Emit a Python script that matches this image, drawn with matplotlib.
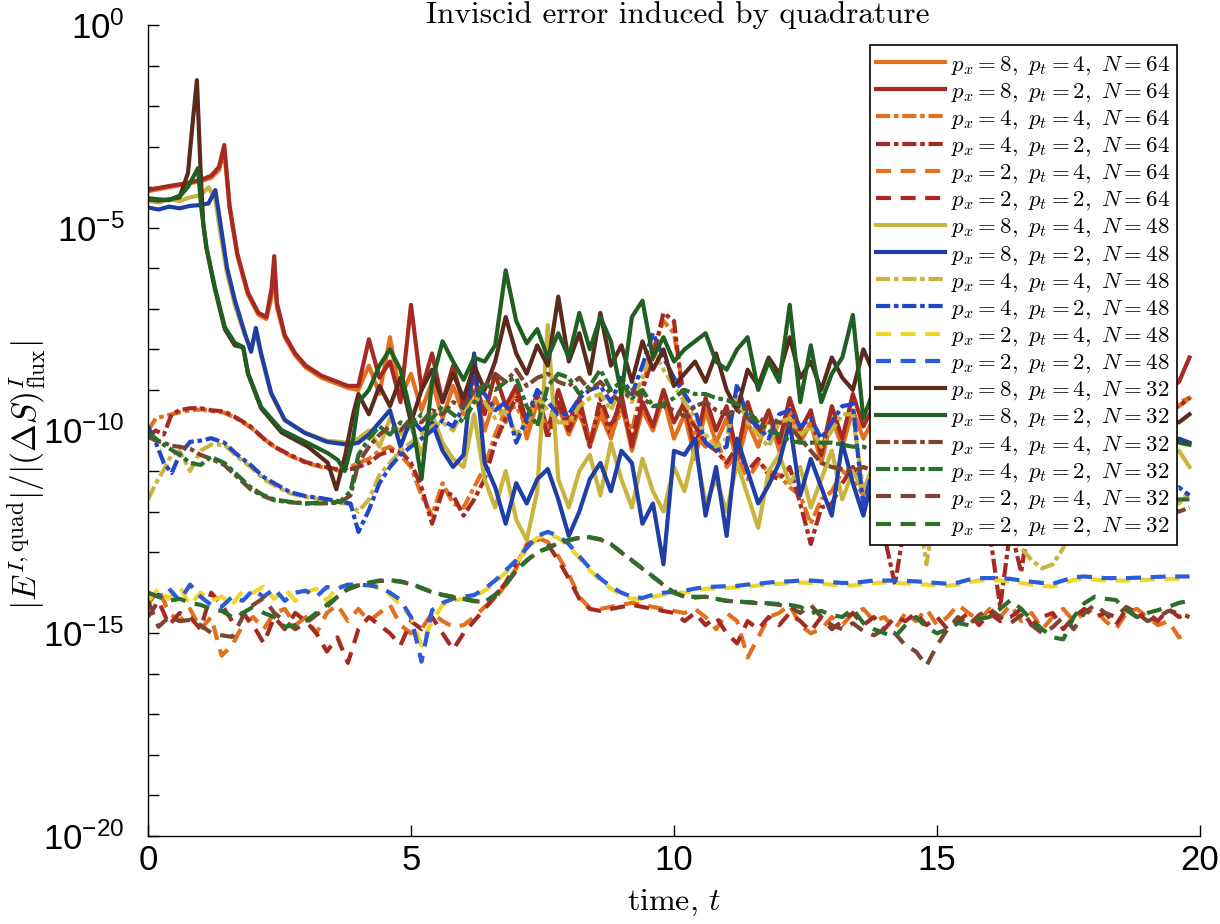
import numpy as np
import matplotlib.pyplot as plt
from matplotlib.ticker import FixedLocator, NullFormatter, LogFormatterMathtext

plt.rcParams['font.family'] = ['Liberation Sans', 'DejaVu Sans']
plt.rcParams['mathtext.fontset'] = 'cm'

# all values are log10 of the error
# --- time grids ---
T_LATE = np.round(4.0 + 0.2 * np.arange(80), 1)   # 4.0 .. 19.8
T_LOW = np.round(0.2 * np.arange(100), 1)         # 0.0 .. 19.8

t_e64 = [0, 0.2, 0.4, 0.6, 0.8, 1.0, 1.2, 1.35, 1.45, 1.55, 1.7, 1.9, 2.1, 2.25,
         2.35, 2.4, 2.45, 2.6, 2.8, 3.0, 3.3, 3.6, 3.8]
t_e48 = [0, 0.2, 0.4, 0.6, 0.8, 1.0, 1.15, 1.28, 1.36, 1.5, 1.65, 1.84, 1.96, 2.05,
         2.15, 2.34, 2.6, 2.98, 3.4, 3.8]
t_e32g = [0, 0.2, 0.4, 0.63, 0.76, 0.88, 0.95, 1.01, 1.11, 1.27, 1.46, 1.65, 1.81,
          1.9, 2.15, 2.54, 3.04, 3.42, 3.61, 3.74, 3.9]
t_e32b = [0, 0.2, 0.4, 0.6, 0.76, 0.85, 0.93, 1.0, 1.05, 1.11, 1.27, 1.46, 1.65,
          1.81, 1.9, 2.15, 2.54, 3.04, 3.42, 3.58, 3.75, 3.9]
t_edd = [0, 0.15, 0.3, 0.45, 0.6, 0.8, 1.0, 1.2, 1.45, 1.7, 1.95, 2.2, 2.4, 2.7,
         3.0, 3.3, 3.65, 3.85]

# --- p_x = 8 (solid) ---
s64_4_early = [-4.1, -4.05, -4.0, -3.95, -3.9, -3.85, -3.77, -3.58, -3.1, -4.5, -5.7,
               -6.65, -7.15, -7.25, -6.7, -6.0, -6.95, -7.7, -8.15, -8.45, -8.7, -8.85, -8.95]
s64_4_late = [-9.0, -8.4, -9.1, -7.7, -9.2, -8.6, -9.5, -8.8, -9.7, -8.9,
              -9.6, -9.0, -10.0, -9.2, -9.8, -8.9, -10.2, -9.3, -10.0, -9.4,
              -10.1, -9.5, -10.4, -9.6, -10.2, -9.3, -10.5, -9.5, -10.0, -9.2,
              -10.2, -9.6, -10.7, -9.5, -10.3, -9.7, -10.8, -9.8, -10.4, -9.6,
              -10.5, -9.5, -10.3, -9.8, -10.8, -9.7, -10.4, -9.5, -10.2, -9.7,
              -10.3, -9.6, -10.5, -9.8, -10.1, -9.5, -10.4, -9.7, -10.0, -9.4,
              -10.2, -9.6, -10.0, -9.7, -10.3, -9.5, -9.9, -9.6, -10.1, -9.5,
              -9.9, -9.4, -10.1, -9.6, -9.8, -9.7, -9.6, -9.5, -9.4, -9.2]
s64_2_early = [-4.07, -4.02, -3.97, -3.93, -3.88, -3.82, -3.72, -3.5, -2.96, -4.45, -5.65,
               -6.6, -7.1, -7.2, -6.5, -5.7, -6.85, -7.65, -8.1, -8.4, -8.65, -8.8, -8.9]
s64_2_late = [-8.9, -7.75, -8.7, -8.3, -9.3, -6.9, -9.0, -8.1, -9.3, -8.4,
              -9.4, -8.7, -9.6, -8.6, -9.4, -8.9, -9.8, -9.1, -10.0, -9.0,
              -9.8, -9.2, -10.3, -9.4, -10.1, -9.1, -10.4, -9.3, -9.9, -9.0,
              -9.8, -9.3, -10.5, -9.2, -10.0, -9.4, -10.6, -9.3, -10.1, -9.5,
              -10.3, -9.2, -10.0, -9.5, -10.6, -9.4, -10.2, -9.1, -9.9, -9.4,
              -10.0, -9.3, -10.2, -9.5, -9.8, -9.2, -10.1, -9.4, -9.7, -9.1,
              -9.9, -9.3, -9.7, -9.4, -10.0, -9.2, -9.6, -9.3, -9.8, -9.2,
              -9.6, -9.1, -9.8, -9.3, -9.5, -9.0, -9.3, -9.0, -8.8, -8.2]
s48_4_early = [-4.33, -4.38, -4.3, -4.34, -4.25, -4.2, -4.0, -4.3, -5.0, -6.1, -6.9,
               -7.65, -8.0, -7.55, -8.15, -9.1, -9.75, -10.05, -10.25, -10.3]
s48_4_late = [-10.2, -10.0, -10.4, -9.7, -10.1, -9.9, -10.6, -9.6, -10.3, -10.7,
              -10.9, -9.6, -11.2, -11.9, -11.0, -12.2, -12.7, -11.5, -7.4, -11.2,
              -11.9, -11.0, -10.6, -11.6, -10.3, -11.2, -11.9, -10.7, -11.5, -12.0,
              -10.9, -11.5, -10.4, -11.8, -11.2, -12.0, -10.8, -11.6, -12.4, -11.0,
              -10.6, -11.3, -10.9, -11.9, -11.2, -10.5, -11.7, -11.0, -11.5, -10.8,
              -11.2, -10.7, -11.8, -10.9, -12.1, -11.0, -11.5, -10.6, -11.3, -10.9,
              -11.4, -10.8, -11.9, -10.6, -11.2, -10.9, -11.6, -10.7, -11.1, -10.8,
              -11.3, -10.6, -11.0, -10.9, -11.4, -10.7, -11.0, -10.6, -10.5, -10.9]
s48_2_early = [-4.5, -4.55, -4.48, -4.52, -4.46, -4.44, -4.4, -4.07, -4.75, -5.97, -6.78,
               -7.6, -8.06, -7.47, -8.1, -9.07, -9.74, -10.06, -10.28, -10.35]
s48_2_late = [-10.3, -10.1, -9.8, -9.5, -10.4, -9.7, -10.0, -9.8, -10.5, -10.9,
              -10.6, -8.1, -10.8, -11.4, -12.3, -11.3, -11.8, -11.2, -10.95, -11.7,
              -12.6, -12.0, -11.2, -10.8, -11.5, -10.5, -10.8, -12.3, -11.8, -13.3,
              -10.5, -10.6, -10.2, -12.1, -10.9, -12.6, -10.2, -11.0, -11.8, -11.35,
              -10.8, -9.8, -11.6, -10.7, -11.4, -12.1, -10.3, -11.3, -12.1, -11.0,
              -11.5, -10.6, -12.0, -10.9, -11.4, -10.5, -11.8, -10.8, -11.2, -10.4,
              -11.6, -10.7, -11.1, -10.3, -11.7, -10.8, -11.3, -10.5, -11.0, -10.6,
              -11.4, -10.5, -10.9, -10.3, -11.0, -10.4, -10.7, -10.3, -10.2, -10.3]
s32_4_early = [-4.3, -4.33, -4.3, -4.25, -3.65, -2.4, -1.36, -3.6, -4.9, -5.5, -6.5,
               -7.5, -7.9, -7.95, -8.6, -9.45, -10.05, -10.4, -10.8, -11.45, -10.6, -9.6]
s32_4_late = [-9.1, -9.6, -8.9, -9.4, -8.7, -9.8, -9.0, -8.5, -9.3, -8.6,
              -9.2, -8.4, -9.0, -8.3, -7.2, -8.1, -8.6, -7.9, -8.4, -6.7,
              -8.3, -7.6, -8.6, -7.1, -8.4, -7.9, -8.8, -7.8, -8.5, -8.0,
              -8.9, -8.6, -8.3, -8.8, -8.1, -9.0, -9.5, -8.5, -8.9, -8.2,
              -8.6, -7.7, -8.7, -8.3, -9.0, -8.2, -8.7, -9.0, -8.0, -8.6,
              -9.1, -8.5, -8.9, -8.3, -9.2, -8.7, -8.4, -9.0, -8.6, -9.3,
              -8.8, -9.1, -8.5, -9.4, -8.9, -9.2, -8.7, -9.5, -9.0, -9.3,
              -9.6, -9.1, -9.8, -9.4, -9.6, -9.9, -9.5, -9.7, -9.8, -9.6]
s32_2_early = [-4.27, -4.3, -4.32, -4.19, -3.99, -3.7, -3.53, -4.49, -5.47, -6.46, -7.45,
               -7.84, -7.94, -8.58, -9.42, -9.99, -10.31, -10.56, -10.73, -11.0, -10.2]
s32_2_late = [-9.3, -9.0, -8.4, -8.0, -8.5, -9.6, -11.2, -8.8, -7.8, -8.3,
              -8.75, -8.2, -8.3, -7.9, -6.05, -7.3, -7.85, -7.5, -8.2, -7.6,
              -8.2, -7.1, -8.0, -7.2, -7.8, -9.1, -7.2, -6.8, -8.2, -7.7,
              -8.3, -8.0, -7.8, -7.6, -8.3, -8.5, -8.0, -7.7, -9.0, -8.3,
              -8.8, -6.9, -9.3, -7.9, -9.3, -8.6, -8.2, -7.15, -9.7, -9.0,
              -8.4, -9.2, -7.8, -8.6, -9.0, -8.1, -8.8, -7.9, -9.1, -8.5,
              -8.7, -9.3, -8.2, -8.9, -9.4, -8.6, -9.1, -8.8, -9.5, -9.0,
              -9.4, -8.9, -9.7, -9.3, -9.9, -9.6, -10.1, -10.0, -10.3, -10.35]

# --- p_x = 4 (dash-dot) ---
d64_4_early = [-10.0, -9.7, -9.65, -9.6, -9.55, -9.5, -9.48, -9.52, -9.56, -9.72, -9.92,
               -10.2, -10.4, -10.62, -10.8, -10.9, -11.0, -10.9]
d64_4_late = [-10.8, -10.7, -10.5, -10.4, -10.6, -10.9, -11.6, -12.1, -11.3, -11.8,
              -11.9, -11.4, -10.9, -10.1, -9.5, -9.4, -9.9, -9.3, -10.0, -9.5,
              -9.8, -9.6, -10.2, -9.4, -10.1, -9.5, -10.0, -8.9, -8.0, -7.3,
              -7.6, -9.2, -10.1, -10.4, -10.2, -10.9, -10.6, -11.2, -10.8, -11.0,
              -11.1, -11.4, -11.6, -12.3, -11.7, -11.5, -11.0, -11.2, -11.6, -11.3,
              -11.9, -12.4, -11.8, -11.2, -10.9, -11.1, -10.8, -11.0, -11.2, -11.4,
              -11.6, -12.0, -11.7, -12.2, -11.4, -11.0, -11.2, -10.8, -10.9, -10.6,
              -10.7, -10.4, -10.6, -10.2, -10.0, -9.9, -9.6, -9.4, -9.3, -9.2]
d64_2_early = [-10.15, -10.0, -10.1, -9.6, -9.5, -9.45, -9.45, -9.5, -9.53, -9.7, -9.9,
               -10.2, -10.4, -10.6, -10.78, -10.88, -10.97, -10.95]
d64_2_late = [-10.9, -10.8, -10.6, -10.5, -10.5, -10.8, -11.4, -12.3, -11.5, -11.6,
              -12.1, -11.7, -11.2, -10.3, -9.7, -9.2, -9.8, -9.1, -10.2, -9.3,
              -10.0, -9.4, -10.4, -9.2, -9.9, -9.3, -10.3, -9.0, -8.2, -7.1,
              -7.3, -9.5, -9.9, -10.3, -10.5, -10.8, -10.4, -11.0, -10.7, -11.1,
              -11.2, -10.9, -11.8, -12.8, -11.9, -11.8, -11.3, -10.9, -11.4, -11.8,
              -12.6, -13.8, -12.2, -11.5, -11.0, -11.4, -11.1, -10.8, -11.3, -11.6,
              -12.5, -14.35, -12.4, -13.5, -11.8, -11.2, -11.5, -10.9, -11.2, -10.8,
              -11.0, -10.6, -10.9, -10.4, -10.2, -10.0, -9.8, -9.5, -9.4, -9.2]
d48_4_early = [-11.7, -11.3, -10.97, -10.6, -10.5, -11.0, -10.5, -10.35, -10.35, -10.65,
               -10.9, -11.2, -11.35, -11.55, -11.64, -11.7, -11.78, -11.82]
d48_4_late = [-12.0, -11.7, -11.1, -10.8, -10.5, -10.3, -10.1, -9.9, -9.8, -10.0,
              -9.5, -9.2, -9.3, -9.7, -9.5, -10.1, -9.8, -9.2, -9.5, -9.8,
              -9.8, -9.4, -9.2, -9.1, -9.5, -8.9, -9.3, -8.7, -8.0, -8.5,
              -8.9, -9.3, -9.7, -10.1, -10.4, -10.2, -9.1, -9.8, -10.1, -10.4,
              -9.8, -9.7, -10.1, -9.9, -10.4, -10.0, -9.6, -9.6, -11.5, -10.9,
              -10.7, -11.2, -10.9, -11.5, -13.3, -11.6, -11.1, -11.4, -10.9, -11.6,
              -11.2, -11.7, -12.4, -12.9, -13.2, -13.4, -13.3, -12.9, -12.3, -11.8,
              -11.5, -11.2, -11.0, -11.3, -11.1, -10.9, -11.0, -11.3, -11.8, -11.5]
d48_2_early = [-9.9, -10.3, -10.8, -11.05, -10.6, -10.28, -10.25, -10.19, -10.3, -10.6,
               -10.85, -11.15, -11.3, -11.52, -11.62, -11.67, -11.75, -11.8]
d48_2_late = [-12.5, -11.96, -11.3, -10.9, -10.6, -10.4, -10.2, -10.0, -9.75, -9.9,
              -9.4, -9.0, -9.1, -9.5, -9.3, -10.3, -9.7, -9.0, -9.3, -9.6,
              -9.6, -9.2, -9.0, -8.9, -9.3, -8.7, -9.1, -8.4, -7.6, -8.2,
              -8.7, -9.1, -9.5, -10.3, -10.5, -10.4, -8.85, -9.7, -9.9, -10.2,
              -9.6, -9.5, -9.9, -9.7, -10.2, -9.8, -9.4, -9.35, -11.9, -10.8,
              -10.5, -11.0, -10.6, -11.3, -10.8, -11.5, -10.9, -11.2, -10.7, -11.4,
              -11.0, -11.6, -11.2, -11.8, -11.3, -11.1, -11.6, -11.4, -11.9, -11.5,
              -11.7, -11.4, -11.9, -11.5, -11.8, -11.6, -11.9, -11.5, -11.4, -11.6]
d32_4_early = [-10.15, -10.25, -10.3, -10.38, -10.4, -10.45, -10.6, -10.7, -10.85, -11.15,
               -11.45, -11.62, -11.72, -11.77, -11.8, -11.8, -11.78, -11.6]
d32_4_late = [-10.8, -10.4, -10.1, -9.9, -10.0, -9.7, -9.8, -9.5, -9.6, -9.3,
              -9.4, -9.0, -8.9, -8.6, -8.8, -8.5, -8.9, -8.7, -8.6, -8.8,
              -8.9, -8.7, -9.0, -8.8, -9.1, -9.3, -9.0, -9.2, -9.4, -9.4,
              -9.5, -9.65, -9.4, -9.3, -9.5, -9.6, -9.5, -9.7, -9.7, -9.8,
              -9.8, -9.9, -10.2, -10.5, -10.8, -10.9, -10.95, -11.0, -10.9, -11.0,
              -11.0, -11.1, -11.0, -11.2, -11.1, -11.2, -11.3, -11.2, -11.3, -11.4,
              -11.3, -11.4, -11.5, -11.4, -11.5, -11.6, -11.5, -11.6, -11.7, -11.6,
              -11.7, -11.8, -11.7, -11.8, -11.9, -11.8, -11.9, -11.9, -12.0, -11.9]
d32_2_early = [-10.06, -10.2, -10.35, -10.48, -10.6, -10.8, -10.85, -10.65, -10.8, -11.1,
               -11.4, -11.6, -11.7, -11.76, -11.8, -11.78, -11.76, -11.5]
d32_2_late = [-10.6, -10.2, -9.9, -10.1, -9.8, -9.9, -9.6, -9.7, -9.4, -9.6,
              -9.8, -9.3, -8.85, -9.0, -8.8, -8.7, -9.4, -9.9, -8.9, -8.6,
              -8.7, -9.1, -8.9, -8.5, -9.0, -8.8, -9.2, -9.0, -9.4, -9.35,
              -9.2, -9.0, -9.1, -9.1, -9.2, -9.25, -9.35, -9.5, -9.8, -10.0,
              -10.1, -10.25, -10.3, -10.3, -10.3, -10.3, -10.35, -10.4, -10.4, -10.5,
              -10.5, -10.6, -10.6, -10.7, -10.7, -10.8, -10.8, -10.9, -10.9, -11.0,
              -11.0, -11.1, -11.1, -11.2, -11.2, -11.3, -11.3, -11.4, -11.4, -11.5,
              -11.5, -11.5, -11.6, -11.6, -11.6, -11.7, -11.7, -11.7, -11.7, -11.7]

# --- p_x = 2 (dashed), on T_LOW ---
l64_4 = [-14.3, -13.9, -14.5, -14.7, -14.4, -14.9, -14.6, -15.55, -15.3, -14.8,
         -14.6, -14.9, -14.5, -14.4, -14.8, -14.6, -15.0, -14.5, -14.3, -14.7,
         -14.4, -14.7, -14.5, -14.3, -14.8, -15.0, -14.9, -14.5, -14.7, -14.84,
         -14.8, -14.6, -14.35, -14.15, -13.8, -13.4, -12.8, -12.65, -12.75, -13.1,
         -13.55, -14.1, -14.38, -14.4, -14.35, -14.3, -14.25, -14.3, -14.35, -14.4,
         -14.45, -14.5, -14.4, -14.6, -14.9, -14.5, -14.7, -15.6, -15.1, -14.6,
         -14.5, -14.3, -14.8, -15.0, -14.9, -14.6, -14.8, -14.5, -14.4, -14.7,
         -14.6, -14.9, -14.5, -14.7, -14.4, -14.8, -14.6, -14.3, -14.5, -14.7,
         -14.4, -14.6, -14.3, -14.7, -14.5, -14.9, -14.6, -14.4, -14.7, -14.5,
         -14.4, -14.7, -14.9, -14.5, -14.4, -14.6, -14.8, -14.7, -15.1, -15.0]
l64_2 = [-14.6, -14.2, -14.8, -14.5, -14.6, -14.9, -14.0, -14.3, -14.7, -14.5,
         -14.8, -15.25, -14.6, -14.9, -14.5, -14.7, -15.0, -15.45, -15.1, -15.73,
         -14.9, -14.6, -14.8, -15.0, -15.3, -14.7, -14.9, -14.6, -15.0, -15.4,
         -15.0, -14.7, -14.4, -14.1, -13.75, -13.3, -12.85, -12.68, -12.8, -13.2,
         -13.65, -14.15, -14.4, -14.45, -14.4, -14.35, -14.3, -14.35, -14.4, -14.45,
         -14.5, -14.7, -14.5, -14.8, -14.6, -15.0, -15.25, -14.7, -14.9, -14.6,
         -14.8, -14.5, -14.7, -14.95, -14.6, -14.9, -14.7, -14.5, -14.8, -14.6,
         -14.9, -14.6, -14.7, -14.5, -14.8, -14.6, -14.9, -14.7, -14.5, -14.8,
         -14.5, -14.7, -14.6, -14.4, -14.8, -14.6, -14.5, -14.9, -14.6, -14.4,
         -14.6, -14.5, -14.8, -14.4, -14.6, -14.5, -14.7, -14.4, -14.6, -14.5]
l48_4 = [-14.2, -13.9, -14.15, -13.85, -14.3, -14.0, -14.2, -14.1, -14.3, -13.95,
         -14.0, -13.85, -14.15, -13.9, -14.2, -14.0, -13.9, -14.2, -13.85, -13.82,
         -13.85, -13.8, -13.9, -14.05, -14.3, -14.6, -15.3, -14.7, -14.3, -14.2,
         -14.15, -14.1, -13.95, -13.75, -13.5, -13.25, -12.95, -12.65, -12.55, -12.65,
         -12.85, -13.15, -13.45, -13.7, -13.9, -14.05, -14.15, -14.15, -14.1, -14.05,
         -14.0, -14.0, -13.95, -13.9, -13.9, -13.88, -13.87, -13.85, -13.82, -13.8,
         -13.78, -13.77, -13.75, -13.76, -13.78, -13.8, -13.82, -13.82, -13.8, -13.76,
         -13.75, -13.76, -13.77, -13.78, -13.8, -13.82, -13.83, -13.8, -13.74, -13.7,
         -13.7, -13.7, -13.72, -13.76, -13.8, -13.83, -13.85, -13.77, -13.68, -13.66,
         -13.68, -13.7, -13.7, -13.7, -13.69, -13.68, -13.67, -13.66, -13.66, -13.66]
l48_2 = [-14.0, -14.1, -13.9, -14.2, -13.8, -14.1, -14.3, -14.35, -14.1, -14.2,
         -13.93, -14.1, -13.9, -14.2, -14.0, -13.95, -14.1, -13.86, -13.9, -13.8,
         -13.8, -13.82, -13.86, -14.0, -14.18, -14.6, -15.7, -14.43, -14.25, -14.15,
         -14.1, -14.06, -13.9, -13.7, -13.45, -13.2, -12.9, -12.6, -12.5, -12.6,
         -12.8, -13.1, -13.4, -13.65, -13.85, -14.0, -14.1, -14.13, -14.05, -14.0,
         -13.98, -13.95, -13.9, -13.86, -13.85, -13.84, -13.83, -13.8, -13.78, -13.75,
         -13.73, -13.72, -13.7, -13.7, -13.72, -13.74, -13.76, -13.76, -13.73, -13.7,
         -13.7, -13.7, -13.71, -13.72, -13.74, -13.76, -13.78, -13.75, -13.68, -13.64,
         -13.64, -13.64, -13.66, -13.7, -13.73, -13.76, -13.78, -13.7, -13.62, -13.6,
         -13.62, -13.64, -13.64, -13.64, -13.63, -13.62, -13.61, -13.6, -13.6, -13.6]
l32_4 = [-14.2, -14.84, -14.6, -14.7, -14.67, -14.8, -14.99, -15.05, -15.09, -14.6,
         -14.3, -14.13, -14.5, -14.7, -14.9, -14.75, -14.55, -14.35, -14.1, -13.92,
         -13.82, -13.76, -13.71, -13.7, -13.73, -13.79, -13.89, -13.99, -14.06, -14.11,
         -14.16, -14.21, -14.23, -14.06, -13.8, -13.46, -13.21, -13.01, -12.9, -12.78,
         -12.71, -12.65, -12.64, -12.69, -12.81, -13.01, -13.21, -13.41, -13.61, -13.81,
         -14.0, -14.1, -14.12, -14.1, -14.16, -14.2, -14.22, -14.24, -14.26, -14.27,
         -14.3, -14.35, -14.5, -14.3, -14.6, -14.8, -14.9, -14.75, -14.95, -15.05,
         -14.9, -15.0, -15.3, -15.45, -15.8, -15.3, -14.9, -14.6, -14.8, -14.55,
         -14.4, -14.6, -14.75, -14.55, -14.8, -15.0, -14.85, -14.6, -14.9, -14.5,
         -14.3, -14.5, -14.6, -14.35, -14.5, -14.7, -14.6, -14.45, -14.5, -14.6]
l32_2 = [-14.0, -14.1, -14.2, -14.15, -14.25, -14.3, -14.4, -14.45, -14.6, -14.5,
         -14.35, -14.5, -14.6, -14.84, -14.8, -14.7, -14.5, -14.3, -14.1, -13.9,
         -13.81, -13.75, -13.7, -13.69, -13.72, -13.78, -13.88, -13.98, -14.05, -14.1,
         -14.15, -14.2, -14.23, -14.05, -13.8, -13.45, -13.2, -13.0, -12.9, -12.77,
         -12.7, -12.64, -12.63, -12.68, -12.8, -13.0, -13.2, -13.4, -13.6, -13.8,
         -14.0, -14.1, -14.1, -14.1, -14.15, -14.2, -14.22, -14.23, -14.25, -14.26,
         -14.28, -14.3, -14.35, -14.5, -14.45, -14.55, -14.6, -14.4, -14.75, -14.9,
         -15.0, -15.09, -14.8, -14.6, -14.85, -15.0, -14.9, -14.75, -14.8, -14.65,
         -14.6, -14.4, -14.18, -14.4, -14.67, -14.9, -15.1, -15.15, -14.6, -14.26,
         -14.1, -14.15, -14.18, -14.43, -14.6, -14.5, -14.43, -14.35, -14.25, -14.2]

# --- colours (N, p_t) ---
c_orange = '#E3701E'
c_red = '#A62A22'
c_olive = '#C9B43F'
c_yellow = '#F0D52A'
c_blue = '#1F3FA6'
c_blue2 = '#2A5CDB'
c_brown = '#5B2A1C'
c_brown2 = '#7B4530'
c_green = '#1F5F22'
c_green2 = '#2C6E2C'

SOLID = '-'
DASHDOT = (0, (3.4, 0.9, 1.1, 0.9))
DASHED = (0, (3.6, 2.3))


def lab(px, pt, n):
    return rf'$p_x = {px},\ p_t = {pt},\ N = {n}$'


def join(t_early, early, late):
    return np.concatenate([t_early, T_LATE]), np.concatenate([early, late])


series = [
    (lab(8, 4, 64), *join(t_e64, s64_4_early, s64_4_late), c_orange, SOLID),
    (lab(8, 2, 64), *join(t_e64, s64_2_early, s64_2_late), c_red, SOLID),
    (lab(4, 4, 64), *join(t_edd, d64_4_early, d64_4_late), c_orange, DASHDOT),
    (lab(4, 2, 64), *join(t_edd, d64_2_early, d64_2_late), c_red, DASHDOT),
    (lab(2, 4, 64), T_LOW, np.array(l64_4), c_orange, DASHED),
    (lab(2, 2, 64), T_LOW, np.array(l64_2), c_red, DASHED),
    (lab(8, 4, 48), *join(t_e48, s48_4_early, s48_4_late), c_olive, SOLID),
    (lab(8, 2, 48), *join(t_e48, s48_2_early, s48_2_late), c_blue, SOLID),
    (lab(4, 4, 48), *join(t_edd, d48_4_early, d48_4_late), c_olive, DASHDOT),
    (lab(4, 2, 48), *join(t_edd, d48_2_early, d48_2_late), '#2146C8', DASHDOT),
    (lab(2, 4, 48), T_LOW, np.array(l48_4), c_yellow, DASHED),
    (lab(2, 2, 48), T_LOW, np.array(l48_2), c_blue2, DASHED),
    (lab(8, 4, 32), *join(t_e32b, s32_4_early, s32_4_late), c_brown, SOLID),
    (lab(8, 2, 32), *join(t_e32g, s32_2_early, s32_2_late), c_green, SOLID),
    (lab(4, 4, 32), *join(t_edd, d32_4_early, d32_4_late), c_brown2, DASHDOT),
    (lab(4, 2, 32), *join(t_edd, d32_2_early, d32_2_late), c_green2, DASHDOT),
    (lab(2, 4, 32), T_LOW, np.array(l32_4), c_brown2, DASHED),
    (lab(2, 2, 32), T_LOW, np.array(l32_2), c_green2, DASHED),
]

fig = plt.figure(figsize=(12.2, 9.24), dpi=100)
ax = fig.add_axes([148 / 1220, 88 / 924, 1052 / 1220, 811 / 924])

for label, t, logv, col, ls in series:
    ax.plot(t, 10.0 ** logv, color=col, linestyle=ls, linewidth=3.0, label=label)

ax.set_yscale('log')
ax.set_xlim(0, 20)
ax.set_ylim(1e-20, 1e0)
ax.set_xticks([0, 5, 10, 15, 20])
ax.yaxis.set_major_locator(FixedLocator([10.0 ** k for k in range(-20, 1, 5)]))
ax.yaxis.set_major_formatter(LogFormatterMathtext())
ax.yaxis.set_minor_locator(FixedLocator([10.0 ** k for k in range(-20, 1) if k % 5]))
ax.yaxis.set_minor_formatter(NullFormatter())
ax.tick_params(axis='both', which='both', direction='in', labelsize=25, width=1)
ax.tick_params(axis='y', which='both', length=8, pad=17)
ax.tick_params(axis='x', which='major', length=8, pad=6)
for side in ('top', 'right'):
    ax.spines[side].set_visible(False)
for side in ('left', 'bottom'):
    ax.spines[side].set_linewidth(1)

leg = ax.legend(loc='upper right', bbox_to_anchor=(0.978, 0.975), borderaxespad=0,
                fontsize=16.5, fancybox=False, edgecolor='black', framealpha=1,
                handlelength=3.0, handletextpad=0.25, labelspacing=0.12, borderpad=0.3)
leg.get_frame().set_linewidth(1.2)

fig.text(678 / 1220, 1 - 23 / 924, 'Inviscid error induced by quadrature',
         ha='center', va='baseline', fontfamily='cmr10', fontsize=22.5)
fig.text(674 / 1220, 1 - 910 / 924, 'time, $t$', ha='center', va='baseline',
         fontfamily='cmr10', fontsize=23)
fig.text(27 / 1220, 1 - 475 / 924,
         r'$|E^{I,\mathrm{quad}}|/|(\Delta S)^{I}_{\mathrm{flux}}|$',
         ha='center', va='center', rotation=90, fontsize=24)

fig.savefig('out.png', dpi=100)
